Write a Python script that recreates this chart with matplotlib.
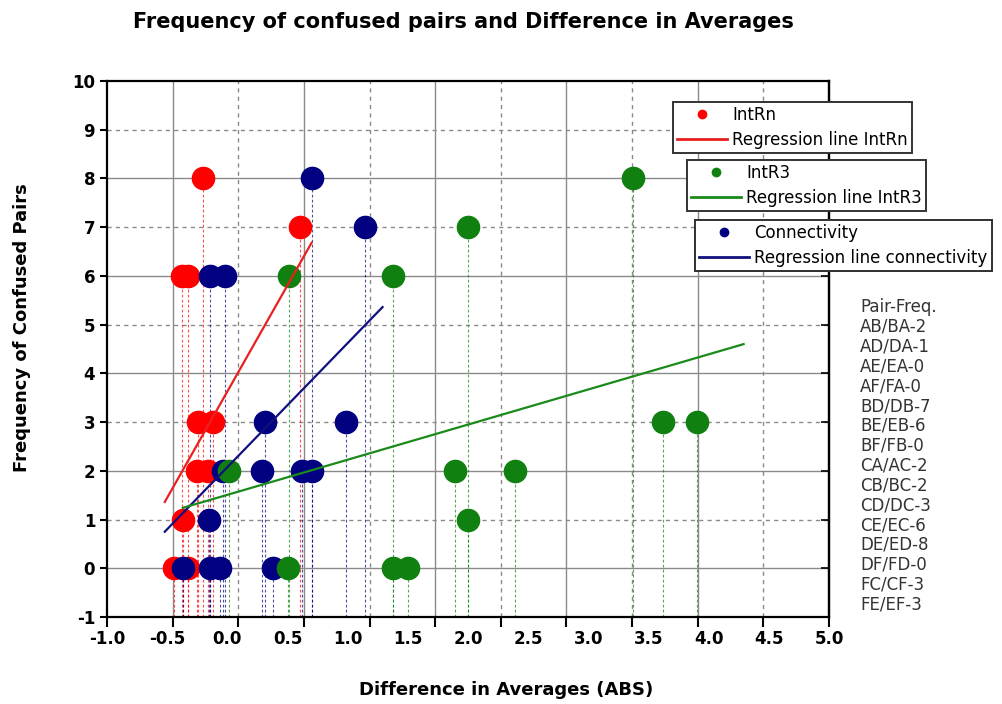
import numpy as np
import matplotlib.pyplot as plt
from matplotlib.lines import Line2D

# Difference in averages (x) against frequency of the confused pair (y)
intrn_x = [-0.20, 0.60, -0.38, -0.33, -0.24, -0.12, -0.25, -0.16, -0.37, -0.44, -0.33]
intrn_y = [8, 7, 6, 6, 3, 3, 2, 2, 1, 0, 0]

conn_x = [0.70, 1.14, -0.14, -0.02, 0.31, 0.99, -0.04, 0.29, 0.62, 0.70, -0.15,
          -0.37, -0.14, -0.06, 0.38]
conn_y = [8, 7, 6, 6, 3, 3, 2, 2, 2, 2, 1, 0, 0, 0, 0]

intr3_x = [3.37, 2.00, 0.51, 1.38, 3.62, 3.90, 0.01, 1.89, 2.39, 2.00, 0.50, 1.38, 1.50]
intr3_y = [8, 7, 6, 6, 3, 3, 2, 2, 2, 1, 0, 0, 0]

# Regression line end points
intrn_fit_x = [-0.52, 0.70]
intrn_fit_y = [1.36, 6.68]
conn_fit_x = [-0.52, 1.29]
conn_fit_y = [0.75, 5.36]
intr3_fit_x = [-0.37, 4.29]
intr3_fit_y = [1.24, 4.60]

# Pair frequency table shown beside the plot
pairs = ['AB/BA', 'AD/DA', 'AE/EA', 'AF/FA', 'BD/DB', 'BE/EB', 'BF/FB', 'CA/AC',
         'CB/BC', 'CD/DC', 'CE/EC', 'DE/ED', 'DF/FD', 'FC/CF', 'FE/EF']
pair_freq = [2, 1, 0, 0, 7, 6, 0, 2, 2, 3, 6, 8, 0, 3, 3]

x_labels = np.arange(-1.0, 5.01, 0.5)
y_ticks = np.arange(-1, 11)

red = '#ff0000'
green = '#108010'
navy = '#000080'

fig = plt.figure(figsize=(10.03, 7.04), dpi=100)
ax = fig.add_axes([107 / 1003, 87 / 704, 722 / 1003, 536 / 704])
ax.set_xlim(-1, 5)
ax.set_ylim(-1, 10)

# Grid: solid and dashed lines alternate
x_grid = np.linspace(-1, 5, 12)
for k, gx in enumerate(x_grid[1:-1], start=1):
    ax.axvline(gx, color='#8a8a8a', lw=1.0, ls='-' if k % 2 else (0, (3, 3)), zorder=0)
for gy in y_ticks[1:-1]:
    ax.axhline(gy, color='#8a8a8a', lw=1.0, ls='-' if gy % 2 == 0 else (0, (3, 3)), zorder=0)

# Points with dashed drop lines down to the x axis
for xs, ys, col in [(intrn_x, intrn_y, red), (conn_x, conn_y, navy), (intr3_x, intr3_y, green)]:
    ax.vlines(xs, -1, ys, colors=col, linestyles=(0, (2.5, 2)), linewidth=0.8, alpha=0.7, zorder=1)
ax.plot(intrn_x, intrn_y, 'o', color=red, markersize=16, zorder=3)
ax.plot(conn_x, conn_y, 'o', color=navy, markersize=16, zorder=4)
ax.plot(intr3_x, intr3_y, 'o', color=green, markersize=16, zorder=5)

# Regression lines
ax.plot(intrn_fit_x, intrn_fit_y, color='#e82020', lw=1.6, zorder=6)
ax.plot(conn_fit_x, conn_fit_y, color='#101080', lw=1.6, zorder=6)
ax.plot(intr3_fit_x, intr3_fit_y, color='#1a8a1a', lw=1.6, zorder=6)

# Axis ticks and labels (tick marks and labels use different spacing)
ax.xaxis.remove_overlapping_locs = False
ax.set_xticks(x_grid)
ax.set_xticklabels([])
ax.set_xticks(x_labels, minor=True)
ax.set_xticklabels([f'{v:.1f}' for v in x_labels], minor=True, fontsize=12, fontweight='bold')
ax.tick_params(axis='x', which='major', direction='out', length=7, width=1.5)
ax.tick_params(axis='x', which='minor', length=0, pad=9)
ax.set_yticks(y_ticks)
ax.set_yticklabels([str(v) for v in y_ticks], fontsize=12, fontweight='bold')
ax.tick_params(axis='y', direction='out', length=5, width=1.5)
right = ax.secondary_yaxis('right')
right.set_yticks(y_ticks)
right.tick_params(direction='in', length=6, width=1.2, labelright=False)
right.spines['right'].set_linewidth(1.6)
for s in ax.spines.values():
    s.set_linewidth(1.6)

ax.set_xlabel('Difference in Averages (ABS)', fontsize=13, fontweight='bold')
ax.xaxis.set_label_coords(0.553, -0.12)
ax.set_ylabel('Frequency of Confused Pairs', fontsize=13, fontweight='bold')
ax.yaxis.set_label_coords(-0.105, 0.54)
fig.text(463 / 1003, 1 - 22 / 704, 'Frequency of confused pairs and Difference in Averages',
         ha='center', va='center', fontsize=15, fontweight='bold')


# Three separate legend boxes
def add_box(label, line_label, col, line_col, left, top):
    handles = [Line2D([], [], marker='o', ls='none', color=col, markersize=6),
               Line2D([], [], color=line_col, lw=2)]
    leg = ax.legend(handles, [label, line_label], loc='upper left',
                    bbox_to_anchor=(left / 1003, 1 - top / 704), bbox_transform=fig.transFigure,
                    borderaxespad=0, fontsize=12, handlelength=3.0, handletextpad=0.3,
                    borderpad=0.25, labelspacing=0.42, fancybox=False, framealpha=1,
                    edgecolor='#333333')
    leg.get_frame().set_linewidth(1.4)
    ax.add_artist(leg)


add_box('IntRn', 'Regression line IntRn', red, '#e82020', 673, 102)
add_box('IntR3', 'Regression line IntR3', green, '#1a8a1a', 687, 160)
add_box('Connectivity', 'Regression line connectivity', navy, '#101080', 695, 220)

table = ['Pair-Freq.'] + [f'{p}-{f}' for p, f in zip(pairs, pair_freq)]
fig.text(860 / 1003, 1 - 298 / 704, '\n'.join(table), ha='left', va='top',
         fontsize=12, color='#333333', linespacing=1.13)

fig.savefig('out.png', dpi=100)
